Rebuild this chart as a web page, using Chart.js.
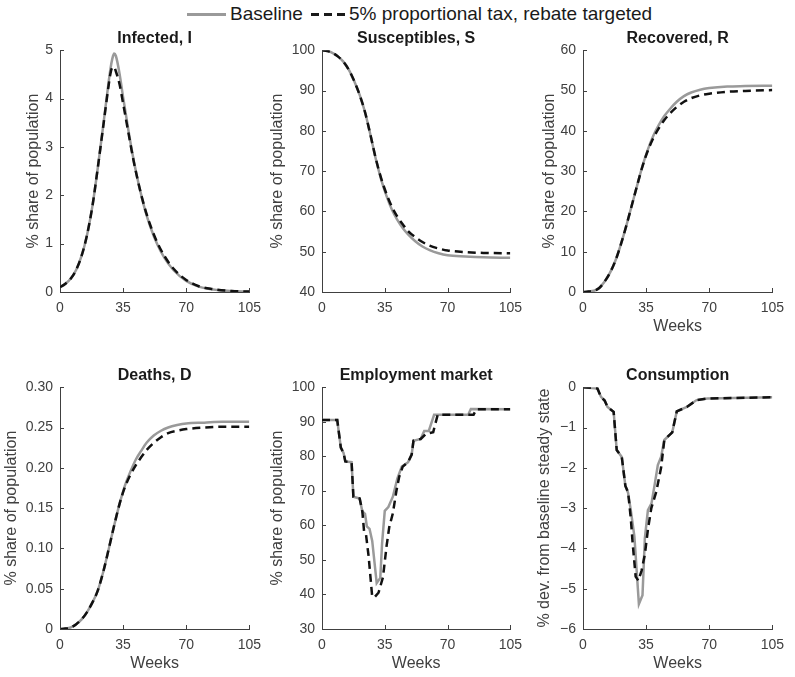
<!DOCTYPE html>
<html>
<head>
<meta charset="utf-8">
<script src="https://cdn.jsdelivr.net/npm/chart.js@4.4.1/dist/chart.umd.min.js"></script>
<style>
  body { margin: 0; background: #fff; width: 795px; height: 677px; position: relative; overflow: hidden; font-family: 'Liberation Sans', Arial, sans-serif; }
  canvas { position: absolute; }
  .leg { position: absolute; font-size: 19px; line-height: 24px; color: #1a1a1a; white-space: nowrap; }
  .sw { position: absolute; height: 2.5px; }
</style>
</head>
<body>
<div class="sw" style="left:187px;top:13px;width:39px;background:#9a9a9a"></div>
<div class="leg" style="left:230px;top:2px">Baseline</div>
<div class="sw" style="left:311px;top:13px;width:34px;background:repeating-linear-gradient(90deg,#1a1a1a 0 8px,transparent 8px 13px)"></div>
<div class="leg" style="left:349px;top:2px">5% proportional tax, rebate targeted</div>

<canvas id="c1"></canvas>
<canvas id="c2"></canvas>
<canvas id="c3"></canvas>
<canvas id="c4"></canvas>
<canvas id="c5"></canvas>
<canvas id="c6"></canvas>

<script>
// ---- data ----
const xTicks = [0, 35, 70, 105];

const infWeeks = [0, 3, 6, 9, 12, 15, 18, 21, 24, 27, 28, 29, 30, 31, 33, 35, 38, 41, 44, 47, 50, 54, 58, 63, 70, 77, 85, 95, 105];
const infBase = [0.10, 0.17, 0.28, 0.46, 0.75, 1.18, 1.78, 2.58, 3.45, 4.35, 4.62, 4.82, 4.93, 4.88, 4.52, 4.03, 3.33, 2.70, 2.17, 1.72, 1.36, 0.98, 0.70, 0.45, 0.23, 0.11, 0.05, 0.02, 0.01];
const infTax = [0.10, 0.17, 0.28, 0.46, 0.75, 1.18, 1.78, 2.58, 3.43, 4.28, 4.52, 4.64, 4.65, 4.56, 4.30, 3.90, 3.28, 2.68, 2.17, 1.74, 1.39, 1.02, 0.74, 0.48, 0.25, 0.12, 0.06, 0.02, 0.01];

const sirWeeks = [0, 3, 6, 9, 12, 15, 18, 21, 24, 27, 30, 33, 36, 39, 42, 45, 48, 52, 56, 60, 65, 70, 80, 90, 105];
const susBase = [100, 99.8, 99.3, 98.4, 97.1, 95.1, 92.3, 88.9, 84.6, 79.0, 73.0, 67.9, 63.8, 60.4, 57.9, 55.9, 54.3, 52.6, 51.3, 50.4, 49.6, 49.1, 48.8, 48.6, 48.5];
const susTax = [100, 99.8, 99.3, 98.4, 97.1, 95.1, 92.3, 88.9, 84.6, 79.0, 73.1, 68.2, 64.3, 61.1, 58.7, 56.8, 55.1, 53.6, 52.4, 51.5, 50.8, 50.3, 49.9, 49.7, 49.6];
const recBase = [0, 0.1, 0.3, 1.0, 2.6, 4.8, 7.8, 11.8, 16.4, 21.4, 26.4, 31.3, 35.4, 38.8, 41.4, 43.6, 45.3, 47.2, 48.6, 49.5, 50.2, 50.6, 51.0, 51.1, 51.2];
const recTax = [0, 0.1, 0.3, 1.0, 2.6, 4.8, 7.8, 11.8, 16.4, 21.4, 26.4, 31.2, 35.1, 38.2, 40.6, 42.6, 44.2, 45.9, 47.2, 48.1, 48.8, 49.2, 49.7, 49.9, 50.1];
const deaBase = [0, 0.0005, 0.002, 0.006, 0.012, 0.021, 0.033, 0.048, 0.071, 0.099, 0.128, 0.155, 0.178, 0.195, 0.210, 0.221, 0.231, 0.240, 0.246, 0.250, 0.253, 0.255, 0.256, 0.257, 0.257];
const deaTax = [0, 0.0005, 0.002, 0.006, 0.012, 0.021, 0.033, 0.048, 0.071, 0.099, 0.128, 0.155, 0.176, 0.191, 0.203, 0.213, 0.222, 0.231, 0.238, 0.243, 0.246, 0.248, 0.250, 0.251, 0.251];

const empBaseWeeks = [0, 8.5, 9.5, 10.5, 12, 13, 16.5, 17.5, 21, 22.5, 24, 25, 26.5, 28, 30.5, 32.5, 33.5, 35, 37, 39.5, 42, 44.5, 48, 50, 51, 55, 57, 59.5, 62.5, 81.5, 83, 105];
const empBase = [90.5, 90.5, 86.5, 82.5, 81, 78.5, 78.3, 68.3, 67.8, 64, 63.3, 59.7, 59, 55.5, 43.3, 44.8, 54.8, 64.2, 65.3, 68.3, 73.5, 77, 78.3, 80.5, 84.5, 85, 87.3, 87.3, 92, 92, 93.7, 93.6];
const empTaxWeeks = [0, 8.5, 9.5, 10.5, 12, 13, 16.5, 17.5, 21, 22.5, 23.5, 24.5, 26, 28, 29.5, 31.5, 34, 36, 37.5, 39.5, 41.5, 43, 45, 48, 50, 51, 55, 58, 62, 64.5, 84.5, 86, 105];
const empTax = [90.5, 90.5, 86.5, 82.5, 81, 78.5, 78.3, 68.3, 67.8, 64, 58, 57.5, 51, 39.3, 39.3, 40.5, 45, 54, 59.5, 63.5, 70, 74, 77, 78.3, 80.5, 84.5, 85, 86.5, 87, 92, 92, 93.6, 93.6];

const consBaseWeeks = [0, 8, 10, 12, 13.6, 17, 18.7, 21.5, 23.5, 25, 26.5, 28.5, 31, 33, 34.3, 36, 38, 39.7, 41.5, 43.3, 45.1, 49.5, 52, 57.6, 63, 69, 105];
const consBase = [0, -0.03, -0.24, -0.33, -0.49, -0.61, -1.56, -1.73, -2.45, -2.62, -3.05, -3.7, -5.38, -5.16, -3.75, -3.05, -2.88, -2.43, -1.93, -1.73, -1.31, -1.12, -0.6, -0.49, -0.32, -0.28, -0.25];
const consTaxWeeks = [0, 8, 10, 12, 13.6, 17, 18.7, 21.5, 23.5, 25, 26.5, 27.5, 29.2, 30.7, 32.5, 34.3, 36.1, 37.9, 40.6, 43.3, 45.1, 49.5, 52, 57.6, 63, 69, 105];
const consTax = [0, -0.03, -0.24, -0.33, -0.49, -0.61, -1.56, -1.73, -2.45, -2.6, -3.25, -3.85, -4.7, -4.8, -4.55, -4.15, -3.5, -3.0, -2.6, -2.0, -1.31, -1.12, -0.6, -0.49, -0.32, -0.28, -0.25];

// ---- drawing ----
const AXIS = '#404040';
Chart.defaults.font.family = "'Liberation Sans', Arial, Helvetica, sans-serif";

const pts = (xs, ys) => xs.map((x, i) => ({ x: x, y: ys[i] }));

// MATLAB-like inward tick marks
const inTicks = {
  id: 'inTicks',
  afterDraw(chart) {
    const { ctx, chartArea: a, scales: { x, y } } = chart;
    ctx.save();
    ctx.strokeStyle = AXIS;
    ctx.lineWidth = 1;
    ctx.beginPath();
    x.ticks.forEach(t => {
      const px = Math.round(x.getPixelForValue(t.value)) + 0.5;
      ctx.moveTo(px, a.bottom); ctx.lineTo(px, a.bottom - 4);
    });
    y.ticks.forEach(t => {
      const py = Math.round(y.getPixelForValue(t.value)) + 0.5;
      ctx.moveTo(a.left, py); ctx.lineTo(a.left + 4, py);
    });
    ctx.stroke();
    ctx.restore();
  }
};

function makePanel(id, p) {
  const canvas = document.getElementById(id);
  const W = p.yw + (p.R - p.L) + 14;
  const H = 35 + (p.B - p.T) + 44;
  canvas.width = W;
  canvas.height = H;
  canvas.style.left = (p.L - p.yw) + 'px';
  canvas.style.top = (p.T - 35) + 'px';

  const smooth = p.smooth ? 'monotone' : 'default';
  new Chart(canvas, {
    type: 'line',
    data: {
      datasets: [{
        label: 'Baseline',
        data: p.base,
        borderColor: '#9a9a9a',
        borderWidth: 2.5,
        pointRadius: 0,
        tension: 0,
        cubicInterpolationMode: smooth,
        order: 1
      }, {
        label: '5% proportional tax, rebate targeted',
        data: p.tax,
        borderColor: '#111111',
        borderWidth: 2.5,
        borderDash: [8, 5],
        pointRadius: 0,
        tension: 0,
        cubicInterpolationMode: smooth,
        order: 0
      }]
    },
    options: {
      responsive: false,
      animation: false,
      devicePixelRatio: 1,
      layout: { padding: { left: 0, right: 14, top: 0, bottom: 0 } },
      plugins: {
        legend: { display: false },
        tooltip: { enabled: false },
        title: {
          display: true,
          text: p.title,
          fullSize: false,
          color: '#1a1a1a',
          font: { size: 16, weight: 'bold' },
          padding: { top: 14, bottom: 2 }
        }
      },
      scales: {
        x: {
          type: 'linear',
          min: 0,
          max: 105,
          afterBuildTicks: s => { s.ticks = xTicks.map(v => ({ value: v })); },
          ticks: { color: AXIS, font: { size: 14 }, padding: 8, maxRotation: 0, autoSkip: false },
          grid: { display: false, drawTicks: false },
          border: { display: true, color: AXIS, width: 1 },
          title: { display: p.weeks, text: 'Weeks', color: AXIS, font: { size: 16 }, padding: { top: 0, bottom: 0 } },
          afterFit: s => { s.height = 44; }
        },
        y: {
          min: p.ymin,
          max: p.ymax,
          ticks: { stepSize: p.step, color: AXIS, font: { size: 14 }, padding: 7, callback: p.fmt },
          grid: { display: false, drawTicks: false },
          border: { display: true, color: AXIS, width: 1 },
          title: { display: true, text: p.ylabel, color: AXIS, font: { size: 16 }, padding: { top: 0, bottom: 0 } },
          afterFit: s => { s.width = p.yw; }
        }
      }
    },
    plugins: [inTicks]
  });
}

const share = '% share of population';
const plain = v => String(Math.round(v * 100) / 100);

makePanel('c1', { title: 'Infected, I', L: 60, R: 255, T: 50, B: 292, yw: 36, ymin: 0, ymax: 5, step: 1, ylabel: share, weeks: false, smooth: true,
  fmt: plain, base: pts(infWeeks, infBase), tax: pts(infWeeks, infTax) });
makePanel('c2', { title: 'Susceptibles, S', L: 322, R: 516, T: 50, B: 292, yw: 54, ymin: 40, ymax: 100, step: 10, ylabel: share, weeks: false, smooth: true,
  fmt: plain, base: pts(sirWeeks, susBase), tax: pts(sirWeeks, susTax) });
makePanel('c3', { title: 'Recovered, R', L: 583, R: 778, T: 50, B: 292, yw: 43, ymin: 0, ymax: 60, step: 10, ylabel: share, weeks: true, smooth: true,
  fmt: plain, base: pts(sirWeeks, recBase), tax: pts(sirWeeks, recTax) });
makePanel('c4', { title: 'Deaths, D', L: 60, R: 255, T: 387, B: 629, yw: 58, ymin: 0, ymax: 0.3, step: 0.05, ylabel: share, weeks: true, smooth: true,
  fmt: v => (Math.abs(v) < 1e-9 ? '0' : v.toFixed(2)), base: pts(sirWeeks, deaBase), tax: pts(sirWeeks, deaTax) });
makePanel('c5', { title: 'Employment market', L: 322, R: 516, T: 387, B: 629, yw: 54, ymin: 30, ymax: 100, step: 10, ylabel: share, weeks: true, smooth: false,
  fmt: plain, base: pts(empBaseWeeks, empBase), tax: pts(empTaxWeeks, empTax) });
makePanel('c6', { title: 'Consumption', L: 583, R: 778, T: 387, B: 629, yw: 48, ymin: -6, ymax: 0, step: 1, ylabel: '% dev. from baseline steady state', weeks: true, smooth: false,
  fmt: v => (v < 0 ? '\u2212' + Math.abs(Math.round(v)) : String(Math.round(v))), base: pts(consBaseWeeks, consBase), tax: pts(consTaxWeeks, consTax) });
</script>
</body>
</html>
